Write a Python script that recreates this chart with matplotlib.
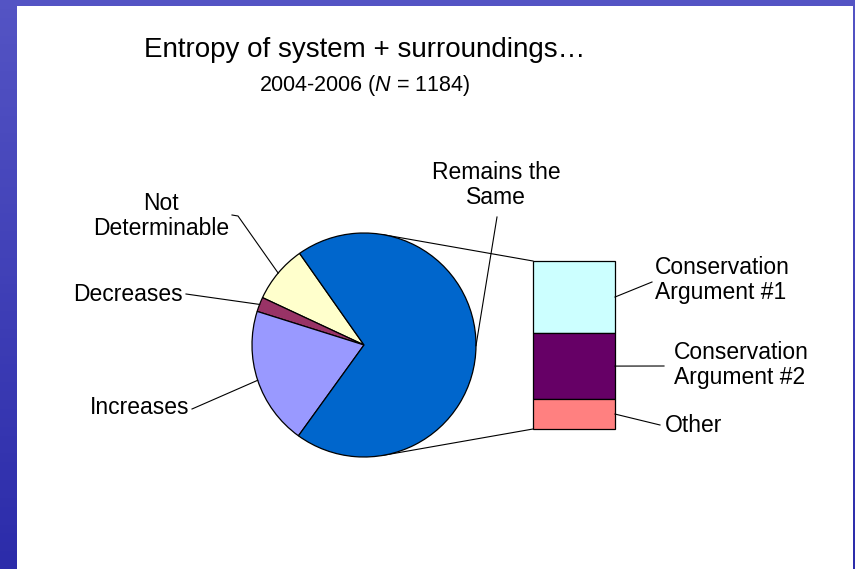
import numpy as np
import matplotlib.pyplot as plt
from matplotlib.patches import Rectangle
from matplotlib.colors import LinearSegmentedColormap

plt.rcParams['font.family'] = ['Liberation Sans', 'DejaVu Sans']
plt.rcParams['mathtext.fontset'] = 'custom'
plt.rcParams['mathtext.rm'] = 'Liberation Sans'
plt.rcParams['mathtext.it'] = 'Liberation Sans:italic'

# data (percent of N = 1184)
pie_labels = ["Not\nDeterminable", "Decreases", "Increases", "Remains the\nSame"]
pie_values = [8.3, 2.1, 19.9, 69.7]
pie_colors = ["#FFFFCC", "#993366", "#9999FF", "#0066CC"]

# "Remains the Same" broken down
bar_labels = ["Conservation\nArgument #1", "Conservation\nArgument #2", "Other"]
bar_values = [29.9, 27.4, 12.4]
bar_colors = ["#CCFFFF", "#660066", "#FF8080"]

W, H = 855, 569
CX, CY, R = 364, 345, 112  # pie centre / radius in pixels


def px(x, y):
    # pixel position (from top left) -> data units of the pie axes
    return (x - CX) / R, (CY - y) / R


def tangent_point(p, upper):
    d = np.hypot(*p)
    phi = np.arctan2(p[1], p[0])
    a = np.arccos(1.0 / d)
    ang = phi + a if upper else phi - a
    return np.cos(ang), np.sin(ang)


fig = plt.figure(figsize=(W / 100, H / 100), dpi=100)

# slide background
bg = fig.add_axes([0, 0, 1, 1])
bg.axis("off")
grad = np.linspace(0, 1, 64).reshape(-1, 1)
cmap = LinearSegmentedColormap.from_list("slide", ["#5454c4", "#2c2caa"])
bg.imshow(grad, aspect="auto", cmap=cmap, extent=[0, 1, 0, 1])
bg.add_patch(Rectangle((17 / W, 0), (853 - 17) / W, (H - 6) / H,
                       transform=bg.transAxes, facecolor="white", edgecolor="none"))
bg.set_xlim(0, 1)
bg.set_ylim(0, 1)

ax = fig.add_axes([0, 0, 1, 1])
ax.patch.set_alpha(0)
wedges, _ = ax.pie(pie_values, colors=pie_colors, startangle=125.1, radius=1,
                   wedgeprops=dict(edgecolor="black", linewidth=0.9))

# bar of pie
bar_x0 = px(533, 0)[0]
bar_w = 82 / R
total_h = 168 / R
scale = total_h / sum(bar_values)
top = total_h / 2
heights = np.array(bar_values) * scale
bottoms = top - np.cumsum(heights)
ax.bar(bar_x0, heights, width=bar_w, bottom=bottoms, align="edge",
       color=bar_colors, edgecolor="black", linewidth=0.9)

# connector lines, tangent to the pie
for corner, upper in [((bar_x0, top), True), ((bar_x0, bottoms[-1]), False)]:
    tx, ty = tangent_point(corner, upper)
    ax.plot([tx, corner[0]], [ty, corner[1]], color="black", lw=0.8, zorder=0.5)

# pie labels
fs = 16.5
label_pos = [  # text anchor, ha, leader start
    ((161, 216), "center", [(232, 215), (238, 216)]),
    ((183, 295), "right", [(186, 294)]),
    ((189, 408), "right", [(192, 409)]),
    ((496, 185), "center", [(497, 217)]),
]
for w, lab, (pos, ha, lead) in zip(wedges, pie_labels, label_pos):
    ax.text(*px(*pos), lab, ha=ha, va="center", fontsize=fs, linespacing=1.15)
    mid = np.deg2rad((w.theta1 + w.theta2) / 2)
    pts = [px(*p) for p in lead] + [(np.cos(mid), np.sin(mid))]
    ax.plot([p[0] for p in pts], [p[1] for p in pts], color="black", lw=0.8)

# bar labels
bar_pos = [((655, 280), (652, 282)), ((674, 365), (664, 366)), ((665, 425), (660, 425))]
for h, b, lab, (pos, end) in zip(heights, bottoms, bar_labels, bar_pos):
    ax.text(*px(*pos), lab, ha="left", va="center", fontsize=fs, linespacing=1.15)
    ex, ey = px(*end)
    ax.plot([bar_x0 + bar_w, ex], [b + h / 2, ey], color="black", lw=0.8)

ax.set_xlim(-CX / R, (W - CX) / R)
ax.set_ylim(-(H - CY) / R, CY / R)
ax.set_aspect("equal")
ax.axis("off")

# titles
fig.text(365 / W, 1 - 50 / H, "Entropy of system + surroundings\u2026",
         ha="center", va="center", fontsize=20)
fig.text(365 / W, 1 - 85 / H, r"2004-2006 ($\mathit{N}$ = 1184)",
         ha="center", va="center", fontsize=15.5)

fig.savefig("out.png", dpi=100)
